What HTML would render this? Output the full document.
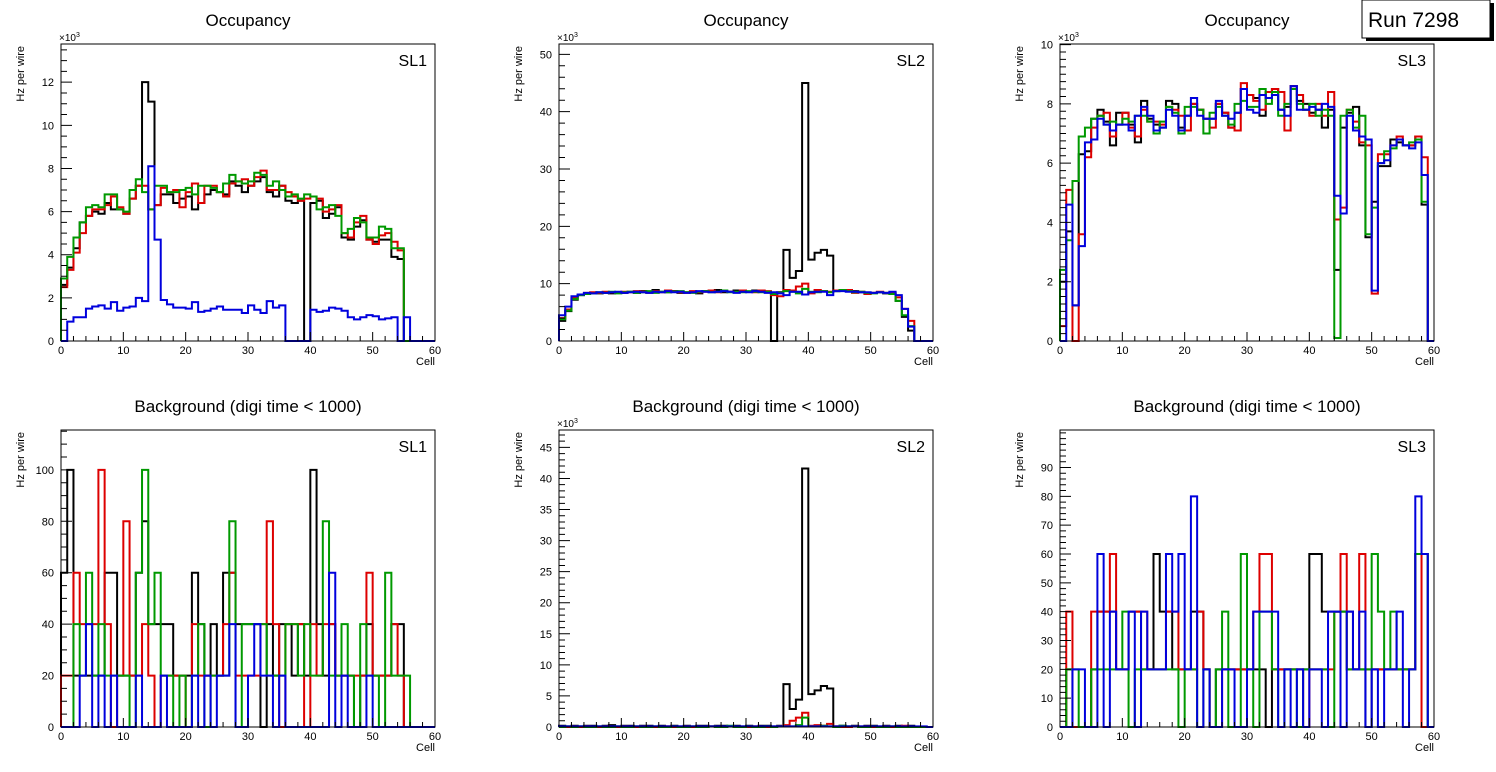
<!DOCTYPE html>
<html><head><meta charset="utf-8">
<style>
html,body{margin:0;padding:0;background:#fff;}
svg{display:block;font-family:"Liberation Sans",sans-serif;}
</style></head>
<body>
<svg id="c" width="1496" height="772" viewBox="0 0 1496 772" xmlns="http://www.w3.org/2000/svg"></svg>
<script>
// ---- data (60 bins per histogram, cell 0..59) ----
const occSL1Black=[2.6,3.4,4.3,5.5,5.8,6.0,5.9,6.4,6.1,6.1,5.9,6.6,7.2,12.0,11.1,6.3,6.8,6.8,6.4,6.6,6.7,6.1,6.4,6.8,7.0,6.9,6.8,7.4,7.2,6.9,7.2,7.4,7.6,6.9,6.7,7.2,6.5,6.4,6.5,0,6.4,6.5,5.7,5.9,6.2,4.8,4.7,5.3,5.6,4.7,4.6,4.7,4.7,3.9,3.8,0,0,0,0,0];
const occSL1Red=[2.5,3.3,4.1,5.0,5.8,6.1,6.1,6.3,6.7,6.2,5.9,6.6,7.2,7.2,6.1,6.3,7.1,6.9,7.0,6.2,6.9,7.3,6.4,7.2,7.2,6.9,6.7,7.3,7.4,7.5,7.2,7.6,7.9,7.0,7.0,7.2,6.9,6.7,6.5,6.6,6.7,6.6,6.0,6.1,6.3,5.0,4.8,5.5,5.8,4.7,4.5,4.9,5.0,4.6,4.2,0,0,0,0,0];
const occSL1Green=[2.9,3.9,4.8,5.5,6.2,6.3,6.2,6.8,6.8,6.1,6.0,7.0,7.5,6.9,6.1,7.2,7.2,6.9,6.9,7.0,7.1,6.8,7.2,7.2,7.1,6.9,7.3,7.7,7.4,7.3,7.4,7.8,7.7,7.2,7.4,7.0,6.7,6.8,6.6,6.8,6.7,6.1,6.2,6.3,5.8,5.0,5.2,5.7,5.5,4.8,4.8,5.3,5.2,4.3,4.3,0,0,0,0,0];
const occSL1Blue=[0,0.9,1.1,1.1,1.5,1.6,1.65,1.5,1.8,1.4,1.55,1.6,2.0,1.85,8.1,4.7,1.9,1.7,1.55,1.55,1.5,1.8,1.35,1.4,1.5,1.6,1.45,1.45,1.45,1.3,1.65,1.45,1.3,1.85,1.55,1.65,0,0,0,0,1.45,1.35,1.4,1.55,1.5,1.4,1.1,1.0,1.1,1.2,1.15,1.0,1.05,1.1,0,1.1,0,0,0,0];

const occSL2Black=[3.5,5.2,7.2,8.0,8.3,8.4,8.3,8.4,8.3,8.5,8.4,8.6,8.4,8.7,8.5,8.9,8.6,8.5,8.7,8.4,8.5,8.6,8.3,8.7,8.6,8.9,8.5,8.6,8.8,8.7,8.6,8.8,8.7,8.6,0,8.5,15.9,11.0,12.2,45.0,14.2,15.4,15.9,14.9,8.7,8.8,8.9,8.7,8.5,8.3,8.4,8.5,8.3,8.4,7.0,4.2,1.8,0,0,0];
const occSL2Red=[4.0,5.5,7.5,8.1,8.4,8.5,8.4,8.6,8.5,8.4,8.6,8.5,8.7,8.6,8.4,8.7,8.5,8.8,8.6,8.5,8.4,8.7,8.5,8.6,8.8,8.5,8.7,8.6,8.5,8.8,8.6,8.5,8.8,8.7,8.0,7.8,8.9,8.8,9.5,10.0,8.3,8.9,8.7,8.6,8.8,8.9,8.9,8.4,8.6,8.2,8.4,8.6,8.4,8.3,7.6,5.6,3.5,0,0,0];
const occSL2Green=[3.8,5.3,7.3,8.0,8.2,8.3,8.5,8.4,8.6,8.3,8.5,8.6,8.4,8.5,8.7,8.4,8.6,8.5,8.6,8.7,8.5,8.4,8.6,8.7,8.5,8.6,8.8,8.5,8.6,8.5,8.7,8.6,8.5,8.6,8.2,8.4,8.7,8.6,8.3,9.1,8.6,8.5,8.7,8.5,8.7,8.9,8.7,8.5,8.6,8.4,8.3,8.5,8.4,8.2,7.0,4.5,2.6,0,0,0];
const occSL2Blue=[4.5,6.0,7.8,8.1,8.4,8.3,8.5,8.4,8.5,8.6,8.4,8.5,8.6,8.5,8.4,8.6,8.5,8.7,8.5,8.6,8.4,8.5,8.7,8.6,8.5,8.6,8.7,8.6,8.4,8.6,8.5,8.7,8.6,8.4,8.5,8.3,8.0,8.6,8.6,8.1,8.5,8.6,8.6,8.0,8.7,8.7,8.6,8.6,8.5,8.5,8.4,8.5,8.4,8.6,8.0,5.6,2.5,0,0,0];

const occSL3Black=[2.0,3.7,1.2,6.3,6.4,7.5,7.8,7.4,6.6,7.7,7.7,7.3,6.7,8.1,7.5,7.3,7.2,8.1,8.0,7.2,7.6,8.0,7.8,7.5,7.5,8.0,7.7,7.2,7.7,8.5,8.3,8.2,7.6,8.4,8.5,7.8,7.9,8.6,8.1,8.0,7.7,7.8,7.2,7.8,2.4,7.2,7.7,7.9,6.6,3.5,4.7,5.9,5.9,6.8,6.7,6.6,6.6,6.9,4.6,0];
const occSL3Red=[0.5,5.1,0,3.6,6.2,7.2,7.6,7.7,6.9,7.3,7.7,7.2,6.9,7.8,7.4,7.4,7.3,7.9,7.8,7.6,7.1,8.0,7.8,7.5,7.2,8.0,7.7,7.2,7.1,8.7,8.3,8.1,7.8,8.4,8.5,8.4,7.1,8.6,8.3,7.8,7.6,8.0,7.6,8.4,4.1,4.5,7.8,7.4,6.7,6.6,1.6,6.3,6.3,6.6,6.9,6.6,6.6,6.9,6.2,0];
const occSL3Green=[2.4,3.4,5.4,6.9,7.2,7.5,7.6,7.3,7.4,7.3,7.5,7.4,7.6,7.6,7.4,7.0,7.4,7.9,7.7,7.0,7.9,7.9,7.8,7.0,7.7,7.9,7.6,7.3,8.0,8.1,7.9,7.9,8.5,8.0,8.4,7.6,8.0,8.5,8.0,7.8,8.0,7.6,7.8,7.6,0.1,7.6,7.8,7.2,7.6,3.6,4.5,6.0,6.4,6.5,6.8,6.6,6.7,6.8,4.7,0];
const occSL3Blue=[0,4.6,1.2,3.2,6.7,6.8,7.5,7.3,7.1,7.3,7.3,7.1,7.6,7.9,7.6,7.1,7.2,7.8,7.6,7.1,7.6,8.2,7.6,7.5,7.5,8.1,7.6,7.5,7.7,8.5,7.8,7.7,8.3,8.2,8.3,7.8,7.6,8.6,7.8,7.8,7.9,7.8,8.0,7.9,4.9,4.3,7.6,7.1,6.9,6.8,1.7,6.0,6.1,6.6,6.8,6.6,6.5,6.7,5.6,0];

const bkgSL1Black=[60,100,20,20,20,20,20,60,60,20,20,20,60,80,40,40,40,40,20,20,20,60,40,20,40,20,60,60,40,40,40,40,0,40,20,40,40,20,40,20,100,40,20,40,20,20,20,0,20,40,20,20,20,40,40,0,0,0,0,0];
const bkgSL1Red=[20,20,60,40,40,40,100,40,0,20,80,20,20,40,20,0,20,20,20,20,0,40,20,20,20,20,40,60,20,20,20,20,40,80,40,0,40,40,40,0,40,20,40,40,20,20,20,20,20,60,20,20,20,40,20,0,0,0,0,0];
const bkgSL1Green=[0,0,40,20,60,20,40,20,20,20,20,0,60,100,40,60,20,20,0,20,0,20,40,0,20,20,20,80,0,40,40,40,40,20,20,20,40,40,20,40,20,20,80,20,20,40,20,0,40,20,20,0,60,20,20,20,0,0,0,0];
const bkgSL1Blue=[0,0,0,20,40,0,20,0,20,0,0,0,20,0,0,0,20,0,0,0,0,20,0,20,0,20,20,40,0,0,20,40,20,20,0,20,0,0,0,0,0,0,0,60,0,20,0,0,0,20,0,0,0,0,0,0,0,0,0,0];

const bkgSL2Black=[0.2,0.1,0.2,0.1,0.2,0.2,0.1,0.2,0.3,0.1,0.2,0.2,0.1,0.2,0.2,0.1,0.2,0.1,0.2,0.1,0.2,0.1,0.2,0.2,0.1,0.2,0.2,0.1,0.2,0.1,0.2,0.1,0.2,0.2,0.1,0.2,6.9,2.9,4.4,41.6,5.3,5.9,6.6,6.2,0.1,0.2,0.1,0.2,0.1,0.2,0.2,0.1,0.2,0.1,0.2,0.1,0.2,0,0,0];
const bkgSL2Red=[0,0,0.1,0,0.1,0,0,0.1,0,0,0.1,0,0,0.1,0,0,0,0.1,0,0,0.1,0,0,0,0.1,0,0,0.1,0,0,0,0.1,0,0,0,0.1,0.3,1.0,1.5,2.3,0.2,0.3,0.2,0.5,0.1,0,0,0.1,0,0.1,0,0,0.1,0,0,0.2,0,0,0,0];
const bkgSL2Green=[0,0.1,0,0.1,0,0,0.1,0,0,0.1,0,0,0.1,0,0,0.1,0,0,0.1,0,0,0.1,0,0,0.1,0,0,0.2,0,0,0.1,0,0,0.1,0,0.1,0.1,0.1,0.3,1.5,0.1,0.1,0.2,0.1,0,0.2,0.1,0.1,0,0,0.1,0,0,0.1,0,0,0,0,0,0];
const bkgSL2Blue=[0.1,0.1,0.1,0.1,0.1,0.1,0.1,0.1,0.1,0.1,0.1,0.1,0.1,0.1,0.1,0.1,0.1,0.1,0.1,0.1,0.1,0.1,0.1,0.1,0.1,0.1,0.1,0.1,0.1,0.1,0.1,0.1,0.1,0.1,0.1,0.1,0.1,0.1,0.1,0.1,0.1,0.1,0.1,0.1,0.1,0.1,0.1,0.1,0.1,0.1,0.1,0.1,0.1,0.1,0.1,0.1,0.1,0.1,0.1,0];

const bkgSL3Black=[0,20,0,0,0,20,40,40,40,20,20,40,40,20,20,60,40,40,20,20,20,40,40,20,0,20,20,20,20,20,20,20,20,0,20,20,20,20,20,20,60,60,40,40,40,40,40,20,20,0,20,20,20,20,20,20,20,60,60,0];
const bkgSL3Red=[0,40,0,0,0,40,40,40,60,20,20,40,40,40,20,20,20,40,40,20,20,20,40,20,0,0,20,20,20,20,20,40,60,60,20,20,20,20,20,0,20,20,20,20,40,60,20,20,60,20,20,20,20,20,20,20,20,60,0,0];
const bkgSL3Green=[0,20,20,0,0,20,20,20,20,20,40,0,20,20,20,20,20,20,20,0,20,20,0,20,0,20,40,0,0,60,20,0,40,40,20,0,20,20,0,20,20,20,20,0,40,40,20,20,20,20,60,40,20,40,20,20,20,60,60,0];
const bkgSL3Blue=[0,0,20,20,0,0,60,0,40,20,20,40,0,40,20,20,20,60,40,60,20,80,0,20,0,0,20,20,0,0,20,40,40,40,40,0,20,0,20,0,20,20,0,40,40,0,40,20,40,0,20,0,20,20,40,0,20,80,60,0];

const xTickLabels=[0,10,20,30,40,50,60];
const occSL1YTicks=[0,2,4,6,8,10,12];
const occSL2YTicks=[0,10,20,30,40,50];
const occSL3YTicks=[0,2,4,6,8,10];
const bkgSL1YTicks=[0,20,40,60,80,100];
const bkgSL2YTicks=[0,5,10,15,20,25,30,35,40,45];
const bkgSL3YTicks=[0,10,20,30,40,50,60,70,80,90];

const NS="http://www.w3.org/2000/svg";
const svg=document.getElementById('c');
function mk(tag,attrs,parent){const e=document.createElementNS(NS,tag);for(const k in attrs)e.setAttribute(k,attrs[k]);(parent||svg).appendChild(e);return e;}
const colors={black:'#000000',red:'#dd0000',green:'#009900',blue:'#0000dd'};

function panel(id,x0,y0,ymax,yTicks,minorStep,series,title,sl,exp){
  const W=374,H=297,x1=x0+W,y1=y0+H;
  const g=mk('g',{});
  
  
  const xs=v=>x0+v*W/60, ys=v=>y1-v*H/ymax;
  const t=mk('text',{x:x0+W/2,y:y0-18,'text-anchor':'middle','font-size':17},g);t.textContent=title;
  
  
  for(const s of series){
    let d='M'+xs(0)+','+ys(0);
    s.v.forEach((v,i)=>{d+=' L'+xs(i)+','+ys(v)+' L'+xs(i+1)+','+ys(v);});
    d+=' L'+xs(60)+','+ys(0);
    const p=mk('path',{d:d,fill:'none',stroke:colors[s.c],'stroke-width':2},g);
    
    
  }
  const f=mk('rect',{x:x0,y:y0,width:W,height:H,fill:'none',stroke:'#000','stroke-width':1},g);
  
  
  let td='';
  for(let i=0;i<=60;i+=2){const x=xs(i);td+='M'+x+','+y1+'v-'+(i%10===0?9:5);}
  for(let v=0;v<=ymax+1e-9;v+=minorStep){const y=ys(v);const major=yTicks.some(t=>Math.abs(t-v)<1e-6);td+='M'+x0+','+y+'h'+(major?11:6);}
  mk('path',{d:td,stroke:'#000','stroke-width':1,fill:'none'},g);
  xTickLabels.forEach(v=>{const l=mk('text',{x:xs(v),y:y1+13,'text-anchor':'middle','font-size':11},g);l.textContent=v;
    
    });
  yTicks.forEach(v=>{const l=mk('text',{x:x0-7,y:ys(v)+4,'text-anchor':'end','font-size':11},g);l.textContent=v;
    
    });
  const xl=mk('text',{x:x1,y:y1+24,'text-anchor':'end','font-size':11},g);xl.textContent='Cell';
  
  
  const yl=mk('text',{x:0,y:0,'text-anchor':'end','font-size':11,transform:'translate('+(x0-37)+','+(y0+2)+') rotate(-90)'},g);yl.textContent='Hz per wire';
  
  
  const sl2=mk('text',{x:x1-8,y:y0+22,'text-anchor':'end','font-size':16},g);sl2.textContent=sl;
  
  
  if(exp){const e=mk('text',{x:x0-2,y:y0-3,'font-size':10},g);e.innerHTML='×10<tspan dy="-4" font-size="7">3</tspan>';
    
    }
}
panel('occ-sl1',61,44,13.77,occSL1YTicks,0.5,[{c:'black',v:occSL1Black},{c:'red',v:occSL1Red},{c:'green',v:occSL1Green},{c:'blue',v:occSL1Blue}],'Occupancy','SL1',true);
panel('occ-sl2',559,44,51.8,occSL2YTicks,2,[{c:'black',v:occSL2Black},{c:'red',v:occSL2Red},{c:'green',v:occSL2Green},{c:'blue',v:occSL2Blue}],'Occupancy','SL2',true);
panel('occ-sl3',1060,44,10.02,occSL3YTicks,0.25,[{c:'black',v:occSL3Black},{c:'red',v:occSL3Red},{c:'green',v:occSL3Green},{c:'blue',v:occSL3Blue}],'Occupancy','SL3',true);
panel('bkg-sl1',61,430,115.5,bkgSL1YTicks,5,[{c:'black',v:bkgSL1Black},{c:'red',v:bkgSL1Red},{c:'green',v:bkgSL1Green},{c:'blue',v:bkgSL1Blue}],'Background (digi time < 1000)','SL1',false);
panel('bkg-sl2',559,430,47.8,bkgSL2YTicks,1,[{c:'black',v:bkgSL2Black},{c:'red',v:bkgSL2Red},{c:'green',v:bkgSL2Green},{c:'blue',v:bkgSL2Blue}],'Background (digi time < 1000)','SL2',true);
panel('bkg-sl3',1060,430,103,bkgSL3YTicks,2,[{c:'black',v:bkgSL3Black},{c:'red',v:bkgSL3Red},{c:'green',v:bkgSL3Green},{c:'blue',v:bkgSL3Blue}],'Background (digi time < 1000)','SL3',false);

// Run label box
const rb=mk('g',{});


mk('rect',{x:1366,y:3,width:128,height:38,fill:'#000'},rb);
mk('rect',{x:1362,y:0,width:128,height:38,fill:'#fff',stroke:'#000','stroke-width':1},rb);
const rt=mk('text',{x:1368,y:27,'font-size':21},rb);rt.textContent='Run 7298';
</script>
</body></html>
